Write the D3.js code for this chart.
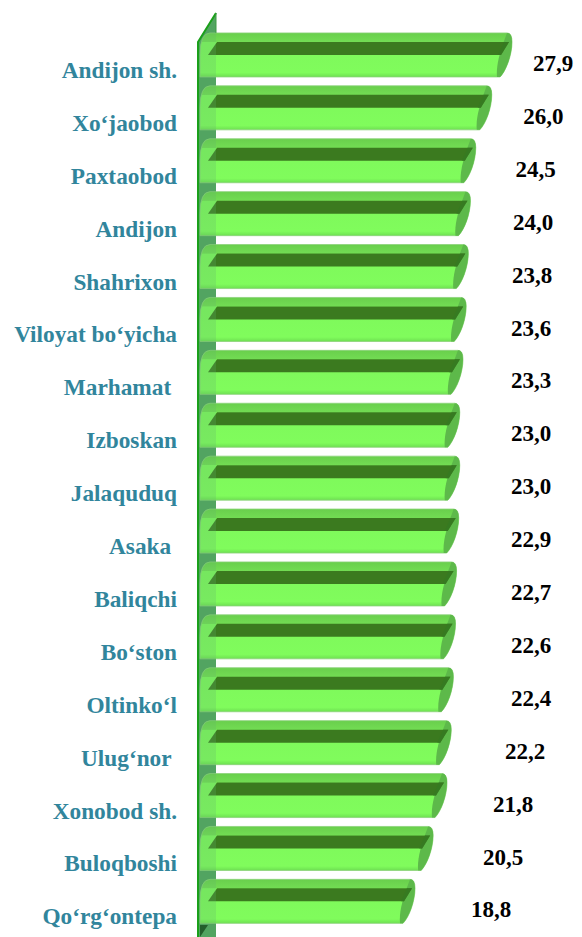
<!DOCTYPE html>
<html>
<head>
<meta charset="utf-8">
<script src="https://cdn.jsdelivr.net/npm/d3@7"></script>
<style>
  html, body { margin: 0; padding: 0; background: #fff; }
</style>
</head>
<body>
<div id="chart"></div>
<script>
const categories = ["Andijon sh.", "Xo‘jaobod", "Paxtaobod", "Andijon", "Shahrixon", "Viloyat bo‘yicha",
  "Marhamat ", "Izboskan", "Jalaquduq", "Asaka ", "Baliqchi", "Bo‘ston", "Oltinko‘l", "Ulug‘nor ",
  "Xonobod sh.", "Buloqboshi", "Qo‘rg‘ontepa"];
const values = [27.9, 26.0, 24.5, 24.0, 23.8, 23.6, 23.3, 23.0, 23.0, 22.9, 22.7, 22.6, 22.4, 22.2, 21.8, 20.5, 18.8];
const valueLabels = values.map(v => v.toFixed(1).replace(".", ","));

const width = 582, height = 937;
const serif = "Liberation Serif";

const svg = d3.select("#chart").append("svg")
  .attr("width", width)
  .attr("height", height);

const defs = svg.append("defs");
const grad = defs.append("linearGradient")
  .attr("id", "barBody")
  .attr("x1", "0%").attr("x2", "0%").attr("y1", "0%").attr("y2", "100%");
grad.selectAll("stop")
  .data([
    { offset: "0%", color: "#69cf4c" },
    { offset: "20%", color: "#72dc53" },
    { offset: "21%", color: "#7ef85b" },
    { offset: "90%", color: "#80fc5c" },
    { offset: "100%", color: "#6ee052" }
  ])
  .enter().append("stop")
  .attr("offset", d => d.offset)
  .attr("stop-color", d => d.color);

// scales
const y = d3.scaleBand()
  .domain(categories)
  .range([28.5, 28.5 + categories.length * 52.9])
  .paddingInner(0.168)
  .paddingOuter(0.084);

const x = d3.scaleLinear().domain([0, 30]).range([214.6, 534.4]);

// value labels sit a bit off the bar ends, as in the original
const labelX = d3.scaleLinear()
  .domain([18.8, 20.5, 21.8, 22.4, 23.6, 27.9])
  .range([491, 503, 513, 531, 531, 553]);

const wallL = 198, wallR = 216;
const wallPath = `M${wallL},42 L${wallR},13 L${wallR},${height} L${wallL},${height} Z`;

// back wall
svg.append("path")
  .attr("d", wallPath)
  .attr("fill", "#4e9f5e");

const rows = categories.map((c, i) => ({ c, v: values[i], label: valueLabels[i] }));
const bh = y.bandwidth();

const bars = svg.append("g").selectAll("g")
  .data(rows)
  .enter().append("g")
  .attr("transform", d => `translate(0,${y(d.c)})`);

// cylinder body
bars.append("path")
  .attr("d", d => {
    const X = x(d.v);
    return `M210,0 L${X - 5},0 Q${X},0 ${X},9 C${X},22 ${X - 6},38 ${X - 12},${bh}
            L200,${bh} L200,22 Q200,0 210,0 Z`;
  })
  .attr("fill", "url(#barBody)")
  .attr("stroke", "#8cd27a")
  .attr("stroke-width", 0.8);

// end cap
bars.append("path")
  .attr("d", d => {
    const X = x(d.v);
    return `M${X - 5},0 Q${X},0 ${X},9 C${X},22 ${X - 6},38 ${X - 12},${bh}
            L${X - 15},${bh} C${X - 16},34 ${X - 13},22 ${X - 8},8 Z`;
  })
  .attr("fill", "#5db94a");

// top face (dark band)
bars.append("path")
  .attr("d", d => {
    const X = x(d.v);
    return `M217,9 L${X - 3},9 L${X - 11},22 L208,22 Z`;
  })
  .attr("fill", "#3b7a1f");

// darker cap part next to the band
bars.append("path")
  .attr("d", d => {
    const X = x(d.v);
    return `M${X - 8},9 L${X - 3},9 L${X - 11},22 L${X - 14},22 Z`;
  })
  .attr("fill", "#367a22")
  .attr("opacity", 0.8);

// wall seen through in front of the bar roots
svg.append("path")
  .attr("d", wallPath)
  .attr("fill", "#5fb56c")
  .attr("opacity", 0.25);

// dark floor corner at the bottom of the wall
svg.append("path")
  .attr("d", `M${wallL + 2},${height} L${wallL + 2},${height - 12} L${wallL + 10},${height - 12} Z`)
  .attr("fill", "#235f2c");

svg.append("path")
  .attr("d", `M${wallL},${height} L${wallL},42 L${wallR},13`)
  .attr("fill", "none")
  .attr("stroke", "#1aa01a")
  .attr("stroke-width", 2);
svg.append("line")
  .attr("x1", wallR).attr("x2", wallR)
  .attr("y1", 13).attr("y2", y(categories[0]))
  .attr("stroke", "#3e9a45")
  .attr("stroke-width", 1);

// category labels
svg.append("g").selectAll("text")
  .data(rows)
  .enter().append("text")
  .attr("x", 177)
  .attr("y", d => y(d.c) + bh + 1)
  .attr("text-anchor", "end")
  .attr("fill", "#31859c")
  .attr("font-family", serif)
  .attr("font-weight", "bold")
  .attr("font-size", 23.3)
  .style("white-space", "pre")
  .text(d => d.c);

// value labels
svg.append("g").selectAll("text")
  .data(rows)
  .enter().append("text")
  .attr("x", d => labelX(d.v))
  .attr("y", d => y(d.c) + bh / 2 + 8)
  .attr("dy", "0.35em")
  .attr("text-anchor", "middle")
  .attr("fill", "#000")
  .attr("font-family", serif)
  .attr("font-weight", "bold")
  .attr("font-size", 23)
  .text(d => d.label);
</script>
</body>
</html>
